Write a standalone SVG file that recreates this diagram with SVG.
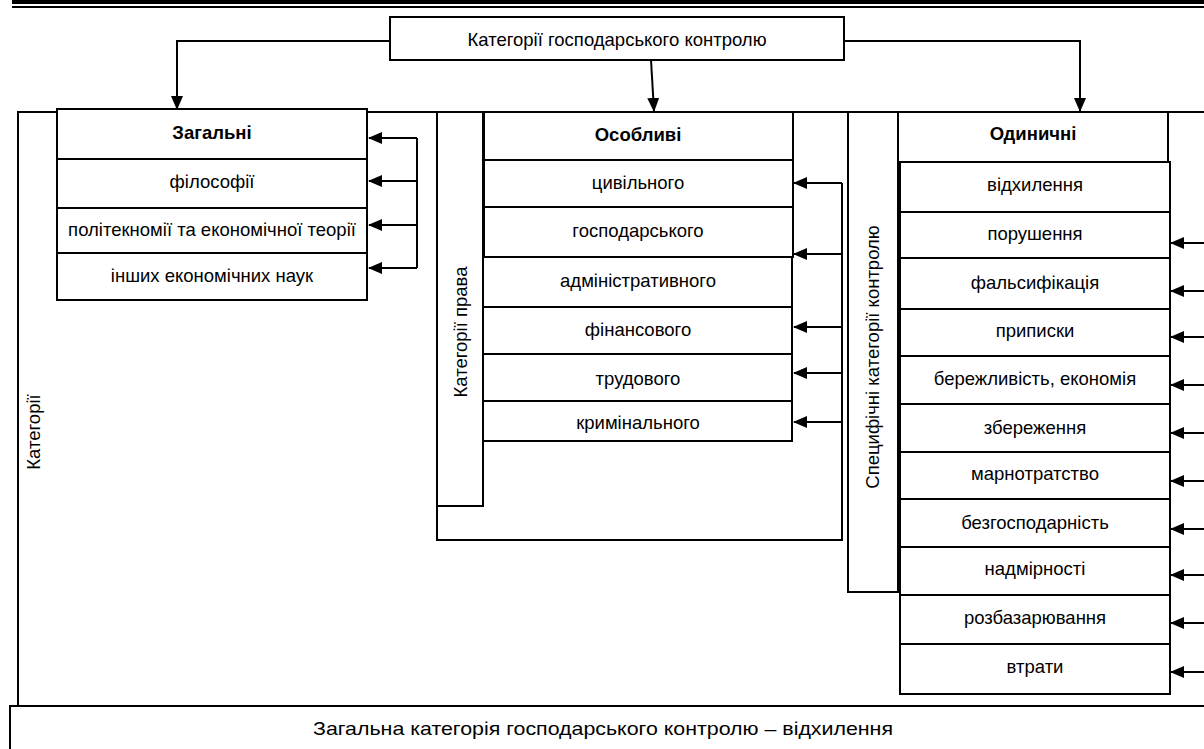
<svg xmlns="http://www.w3.org/2000/svg" width="1204" height="749" viewBox="0 0 1204 749">
<defs>
<style>
.b{fill:#fff;stroke:#000;stroke-width:2}
.l{fill:none;stroke:#000;stroke-width:2}
.t{font-family:"Liberation Sans",Arial,sans-serif;font-size:18.5px;fill:#000;text-anchor:middle;dominant-baseline:central}
.h{font-weight:bold}
.a{fill:none;stroke:#000;stroke-width:2;marker-end:url(#ar)}
</style>
<marker id="ar" markerUnits="userSpaceOnUse" markerWidth="14" markerHeight="12" viewBox="0 0 14 12" refX="13" refY="6" orient="auto">
<path d="M0,0 L14,6 L0,12 Z" fill="#000"/>
</marker>
</defs>
<rect width="1204" height="749" fill="#fff"/>
<g id="frame">
<rect x="12" y="0" width="1192" height="4" fill="#000"/>
<rect x="12" y="6" width="1192" height="2" fill="#000"/>
<path class="l" d="M18,707 V112 H1204"/>
<text class="t" transform="translate(33,432) rotate(-90)">Категорії</text>
</g>
<g id="top">
<rect class="b" x="390" y="17" width="454" height="43"/>
<text class="t" x="617" y="39">Категорії господарського контролю</text>
</g>
<g id="zagalni">
<rect class="b" x="57" y="109" width="310" height="191"/>
<path class="l" d="M57,159 H367 M57,208 H367 M57,253 H367"/>
<text class="t h" x="212" y="132">Загальні</text>
<text class="t" x="212" y="181">філософії</text>
<text class="t" x="212" y="229">політекномії та економічної теорії</text>
<text class="t" x="212" y="275">інших економічних наук</text>
</g>
<g id="prava">
<path class="l" d="M842,183 V540 H437 V112"/>
<rect class="b" x="437" y="112" width="46" height="394"/>
<text class="t" transform="translate(460,332) rotate(-90)">Категорії права</text>
</g>
<g id="osoblyvi">
<rect class="b" x="483" y="257" width="309" height="184"/>
<path class="l" d="M483,307 H792 M483,354 H792 M483,401 H792"/>
<rect class="b" x="484" y="112" width="309" height="145"/>
<path class="l" d="M484,160 H793 M484,207 H793"/>
<text class="t h" x="638" y="134">Особливі</text>
<text class="t" x="638" y="182">цивільного</text>
<text class="t" x="638" y="230">господарського</text>
<text class="t" x="638" y="280">адміністративного</text>
<text class="t" x="638" y="329">фінансового</text>
<text class="t" x="638" y="378">трудового</text>
<text class="t" x="638" y="422">кримінального</text>
</g>
<g id="specyfichni">
<rect class="b" x="848" y="112" width="50" height="480"/>
<text class="t" transform="translate(872,357) rotate(-90)">Специфічні категорії контролю</text>
</g>
<g id="odynychni">
<rect class="b" x="898" y="112" width="270" height="50"/>
<text class="t h" x="1033" y="133">Одиничні</text>
<rect class="b" x="900" y="162" width="270" height="532"/>
<path class="l" d="M900,212 H1170 M900,258 H1170 M900,309 H1170 M900,356 H1170 M900,404 H1170 M900,452 H1170 M900,499 H1170 M900,547 H1170 M900,595 H1170 M900,644 H1170"/>
<text class="t" x="1035" y="184">відхилення</text>
<text class="t" x="1035" y="233">порушення</text>
<text class="t" x="1035" y="282">фальсифікація</text>
<text class="t" x="1035" y="330">приписки</text>
<text class="t" x="1035" y="378">бережливість, економія</text>
<text class="t" x="1035" y="427">збереження</text>
<text class="t" x="1035" y="473">марнотратство</text>
<text class="t" x="1035" y="522">безгосподарність</text>
<text class="t" x="1035" y="568">надмірності</text>
<text class="t" x="1035" y="617">розбазарювання</text>
<text class="t" x="1035" y="666">втрати</text>
</g>
<g id="bottom">
<rect class="b" x="10" y="706" width="1204" height="60"/>
<text class="t" x="603" y="728" textLength="580" lengthAdjust="spacingAndGlyphs">Загальна категорія господарського контролю – відхилення</text>
</g>
<g id="connectors">
<path class="a" d="M390,41 H177 V109"/>
<path class="a" d="M651,60 L654,111"/>
<path class="a" d="M844,41 H1080 V111"/>
<path class="l" d="M417,138 V268"/>
<path class="a" d="M417,138 H369"/>
<path class="a" d="M416,181 H369"/>
<path class="a" d="M417,225 H369"/>
<path class="a" d="M417,268 H369"/>
<path class="a" d="M842,183 H794"/>
<path class="a" d="M842,254 H794"/>
<path class="a" d="M842,327 H794"/>
<path class="a" d="M842,373 H794"/>
<path class="a" d="M842,422 H794"/>
<path class="a" d="M1204,243 H1171"/>
<path class="a" d="M1204,291 H1171"/>
<path class="a" d="M1204,337 H1171"/>
<path class="a" d="M1204,385 H1171"/>
<path class="a" d="M1204,433 H1171"/>
<path class="a" d="M1204,481 H1171"/>
<path class="a" d="M1204,529 H1171"/>
<path class="a" d="M1204,575 H1171"/>
<path class="a" d="M1204,623 H1171"/>
<path class="a" d="M1204,672 H1171"/>
</g>
</svg>
